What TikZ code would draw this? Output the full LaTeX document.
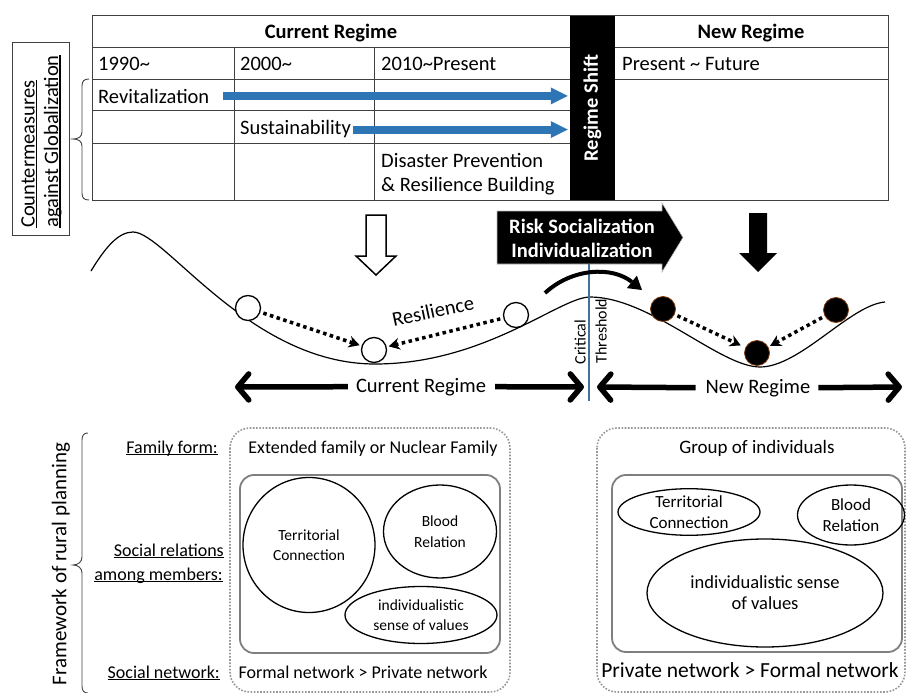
\documentclass[tikz,border=0pt]{standalone}
\usepackage{fontspec}
\setmainfont{Carlito}
\usetikzlibrary{arrows.meta,shapes.geometric,calc}
\definecolor{oblue}{RGB}{46,117,182}
\definecolor{tline}{RGB}{64,64,64}
\definecolor{thr}{RGB}{65,113,156}
\definecolor{boxgray}{RGB}{127,127,127}
\definecolor{dotgray}{RGB}{150,150,150}
\definecolor{ballrim}{RGB}{132,60,12}
\newcommand{\ulx}[1]{\sbox0{#1}\rlap{\rule[-0.13em]{\wd0}{0.07em}}\usebox0}
\begin{document}
\begin{tikzpicture}[x=1pt,y=-1pt,
 tabline/.style={draw=tline,line width=1pt},
 t20/.style={inner sep=0pt,font=\fontsize{20.5}{24}\selectfont},
 b20/.style={inner sep=0pt,font=\fontsize{20.5}{24}\selectfont\bfseries},
 t18/.style={inner sep=0pt,font=\fontsize{18}{22}\selectfont},
 t16/.style={inner sep=0pt,font=\fontsize{16}{19}\selectfont},
 ellL/.style={draw,ellipse,line width=1.3pt,inner sep=0pt,align=center,font=\fontsize{15.5}{20.5}\selectfont},
 ellR/.style={draw,ellipse,line width=1.3pt,inner sep=0pt,align=center,font=\fontsize{17}{21}\selectfont},
 ball/.style={circle,draw,line width=1.3pt,fill=white,minimum size=25pt,inner sep=0pt},
 bball/.style={circle,draw=ballrim,line width=0.8pt,fill=black,minimum size=25pt,inner sep=0pt},
 dotarr/.style={line width=3.5pt,dash pattern=on 3.5pt off 3.5pt,-{Stealth[length=11pt,width=12pt,line width=0pt]},shorten >=2pt,shorten <=3pt},
 bluearr/.style={draw=oblue,line width=8pt,-{Triangle[length=17pt,width=17pt,line width=0pt]}},
 bigarr/.style={line width=5.5pt,-{Straight Barb[length=11pt,width=26pt,round]}},
 brace/.style={draw=tline,line width=0.9pt},
]
\useasboundingbox (0,0) rectangle (906,693);

% ---------- table ----------
\draw[tabline] (92,16) rectangle (888,200);
\draw[tabline] (92,48) -- (570,48) (615,48) -- (888,48);
\draw[tabline] (92,80) -- (570,80) (615,80) -- (888,80);
\draw[tabline] (92,111) -- (570,111) (92,143) -- (570,143);
\draw[tabline] (234,48) -- (234,200) (374,48) -- (374,200);
\node[fill=black,minimum width=45pt,minimum height=184pt,inner sep=0pt] (shift) at (592.5,108) {};
\node[b20,text=white,rotate=90] (shiftlbl) at (shift.center) {Regime Shift};

\node[b20,anchor=base] (cur) at (331,39) {Current Regime};
\node[b20,anchor=base] (new) at (751,39) {New Regime};
\node[t20,anchor=base west] (y1990) at (98,71) {1990\textasciitilde};
\node[t20,anchor=base west] (y2000) at (240,71) {2000\textasciitilde};
\node[t20,anchor=base west] (y2010) at (381,71) {2010\textasciitilde Present};
\node[t20,anchor=base west] (future) at (622,71) {Present \textasciitilde{} Future};
\node[t20,anchor=base west] (revit) at (98,103) {Revitalization};
\node[t20,anchor=base west] (sust) at (240,135) {Sustainability};
\node[t20,anchor=base west] (dis1) at (381,167) {Disaster Prevention};
\node[t20,anchor=base west] (dis2) at (381,191) {\& Resilience Building};

\draw[bluearr,shorten >=2pt] ([xshift=14pt]revit.east) -- (shift.west |- revit.east);
\draw[bluearr,shorten >=2pt] ([xshift=2pt]sust.east) -- (shift.west |- sust.east);

% left label box
\draw[tabline] (12,43) rectangle (69,235);
\node[t20,rotate=90,anchor=base west] (cm1) at (34.5,228) {\ulx{Countermeasures}};
\node[t20,rotate=90,anchor=base west] (cm2) at (58,228) {\ulx{against Globalization}};
\draw[brace] (89,79) .. controls (84,79) and (82,81) .. (82,86) -- (82,132)
  .. controls (82,137) and (78,139) .. (73,139) .. controls (78,139) and (82,141) .. (82,146)
  -- (82,193) .. controls (82,198) and (84,200) .. (89,200);

% ---------- landscape ----------
\draw[line width=1.5pt,fill=white] (366,215) -- (386,215) -- (386,256) -- (396,256) -- (376,275) -- (356,256) -- (366,256) -- cycle;
\fill (749,213) -- (767,213) -- (767,253) -- (777,253) -- (758,272) -- (739,253) -- (749,253) -- cycle;
\filldraw[draw=gray!50,line width=0.6pt] (497,211) -- (662,211) -- (662,203) -- (683,237.5) -- (662,272) -- (662,264) -- (497,264) -- cycle;
\node[b20,text=white,anchor=base] (risk1) at (582,233) {Risk Socialization};
\node[b20,text=white,anchor=base] (risk2) at (582,257) {Individualization};

\draw[line width=1.2pt] (91,271) .. controls (105,248) and (118,232) .. (133,232)
 .. controls (165,232) and (250,364) .. (375,364)
 .. controls (485,364) and (560,297) .. (590,297)
 .. controls (650,297) and (720,367) .. (760,367)
 .. controls (800,367) and (850,305) .. (885,302);

\coordinate (thrT) at (589,264);
\coordinate (thrB) at (589,401);
\draw[thr,line width=1.3pt] (thrT) -- (thrB);
\node[t16,rotate=90] (crit) at (580,342) {Critical};
\node[t16,rotate=90] (thres) at (601,331) {Threshold};

\coordinate (arcS) at (545,293);
\coordinate (arcE) at (642,290);
\draw[line width=4pt,-{Triangle[length=13pt,width=16pt,line width=0pt]}] (arcS) .. controls (572,268) and (612,266) .. (arcE);

\node[ball] (c1) at (248,308) {};
\node[ball] (c2) at (374,350) {};
\node[ball] (c3) at (516,315) {};
\node[bball] (b1) at (663,309) {};
\node[bball] (b2) at (757,353) {};
\node[bball] (b3) at (836,310) {};
\draw[dotarr] (c1) -- (c2);
\draw[dotarr] (c3) -- (c2);
\draw[dotarr,shorten >=5pt] (b1) -- (b2);
\draw[dotarr] (b3) -- (b2);
\node[t20,rotate=12] (resil) at (433,311) {Resilience};

\node[t20,anchor=base] (curlbl) at (421,392) {Current Regime};
\node[t20,anchor=base] (newlbl) at (758,393) {New Regime};
\coordinate (cL) at (235,387);
\coordinate (cR) at (584,387);
\coordinate (nL) at (597,387);
\coordinate (nR) at (902,387);
\draw[bigarr] ([xshift=-8pt]curlbl.west) -- (cL);
\draw[bigarr] ([xshift=9pt]curlbl.east) -- (cR);
\draw[bigarr] ([xshift=-10pt]newlbl.west) -- (nL);
\draw[bigarr] ([xshift=8pt]newlbl.east) -- (nR);

% ---------- bottom ----------
\draw[brace] (88,433) .. controls (84,433) and (82,435) .. (82,440) -- (82,557)
  .. controls (82,562) and (78,565) .. (73,565) .. controls (78,565) and (82,568) .. (82,573)
  -- (82,686) .. controls (82,691) and (84,693) .. (88,693);
\node[inner sep=0pt,font=\fontsize{21}{24}\selectfont,rotate=90] (frame) at (61,564) {Framework of rural planning};

\node[t18,anchor=base east] (famform) at (218,453) {\ulx{Family form:}};
\node[t18,anchor=base east] (soc1) at (224,556) {\ulx{Social relations}};
\node[t18,anchor=base east] (soc2) at (223,580) {\ulx{among members:}};
\node[t18,anchor=base east] (socnet) at (220,678) {\ulx{Social network:}};

\draw[dotgray,line width=1.6pt,dash pattern=on 1.6pt off 1.6pt,rounded corners=20pt] (230,428) rectangle (510,692);
\draw[dotgray,line width=1.6pt,dash pattern=on 1.6pt off 1.6pt,rounded corners=20pt] (597,428) rectangle (905,692);
\draw[boxgray,line width=1.8pt,rounded corners=14pt] (240,475) rectangle (500,653);
\draw[boxgray,line width=1.8pt,rounded corners=14pt] (612,475) rectangle (902,652);

\node[t18,anchor=base] (ext) at (373,453) {Extended family or Nuclear Family};
\node[t18,anchor=base] (formal) at (363,678) {Formal network > Private network};
\node[inner sep=0pt,font=\fontsize{19}{22}\selectfont,anchor=base] (group) at (757,453) {Group of individuals};
\node[inner sep=0pt,font=\fontsize{21.5}{24}\selectfont,anchor=base] (private) at (750,677) {Private network > Formal network};

\node[ellL,minimum width=132pt,minimum height=135pt] (terrL) at (309,545) {Territorial\\Connection};
\node[ellL,minimum width=113pt,minimum height=93pt] (bloodL) at (440,531.5) {Blood\\Relation};
\node[ellL,minimum width=152pt,minimum height=57pt] (indivL) at (421,615) {individualistic\\sense of values};

\node[ellR,minimum width=142pt,minimum height=42pt] (terrR) at (689,512) {Territorial\\Connection};
\node[ellR,minimum width=107pt,minimum height=60pt] (bloodR) at (851,515) {Blood\\Relation};
\node[ellR,minimum width=236pt,minimum height=108pt,font=\fontsize{18.5}{21}\selectfont] (indivR) at (765,593) {individualistic sense\\of values};
\end{tikzpicture}
\end{document}
